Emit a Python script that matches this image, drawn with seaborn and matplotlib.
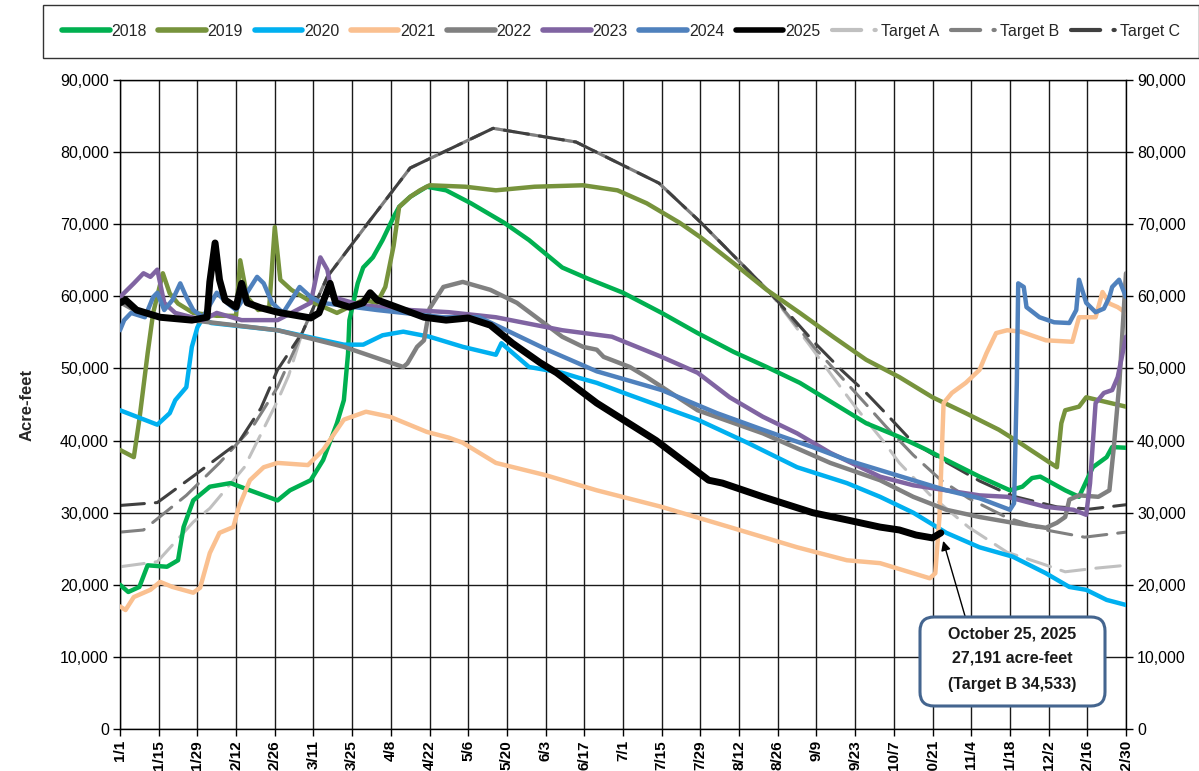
import numpy as np
import pandas as pd
import matplotlib
matplotlib.use("Agg")
import matplotlib.pyplot as plt
from matplotlib.lines import Line2D
from matplotlib.patches import FancyBboxPatch
from matplotlib.transforms import IdentityTransform
from matplotlib.ticker import FuncFormatter, MultipleLocator
import seaborn as sns

# ---------------- data (x = day of year on a leap-year axis, 0 = Jan 1) ----------------
tick_days = list(range(0, 365, 14))
tick_labels = ["1/1", "1/15", "1/29", "2/12", "2/26", "3/11", "3/25", "4/8", "4/22", "5/6",
               "5/20", "6/3", "6/17", "7/1", "7/15", "7/29", "8/12", "8/26", "9/9", "9/23",
               "10/7", "10/21", "11/4", "11/18", "12/2", "12/16", "12/30"]

days_2018 = [0, 3, 7, 10, 17, 21, 23, 26.5, 32.5, 40, 47, 57, 61.5, 69, 73.5, 78.5, 81, 82.5, 83,
             86, 88, 91.5, 95, 99, 101, 105, 111, 118, 127, 139, 148, 160, 169, 182, 196, 209,
             222, 234, 246, 258, 270, 282, 292, 299, 311, 322, 326.5, 330, 333, 342, 347, 352,
             357, 359, 364]
vals_2018 = [20000, 19000, 19700, 22700, 22500, 23400, 28000, 31700, 33600, 34100, 33100, 31700,
             33100, 34500, 37300, 42400, 45600, 52000, 56700, 61800, 64000, 65400, 67800, 71000,
             72400, 73800, 75200, 74700, 72900, 70200, 67800, 64000, 62500, 60500, 57700, 54900,
             52300, 50200, 48000, 45200, 42400, 40500, 38700, 37300, 35000, 33100, 33600, 34800,
             35000, 33100, 32200, 36300, 37700, 39100, 39000]

days_2019 = [0, 5, 7, 10, 12, 15.5, 18, 21, 26.5, 35, 42, 43.5, 46, 50, 54, 56, 58, 62, 68, 78.5,
             88, 93, 96, 99, 101, 105, 108.5, 112, 125, 136, 150, 167.5, 180, 190.6, 202.5, 210,
             222, 234, 246, 258, 270, 282, 294, 306, 318, 325.5, 335, 339, 340.6, 342, 347,
             349.6, 354, 364]
vals_2019 = [38700, 37700, 42900, 52100, 57700, 63200, 60400, 59000, 57700, 57300, 57300, 65000,
             59900, 58100, 58500, 69600, 62300, 60900, 59500, 57700, 59500, 59100, 61300, 67000,
             72400, 73800, 74700, 75400, 75200, 74700, 75200, 75400, 74700, 72900, 70200, 68200,
             64600, 60900, 57700, 54400, 51200, 48800, 46000, 43800, 41500, 39700, 37300, 36300,
             42400, 44200, 44700, 46000, 45600, 44700]

days_2020 = [0, 13.5, 18, 20, 24, 26, 28, 30, 33, 57, 81, 88, 95, 102.5, 112, 124, 136, 138, 148,
             160, 166, 172.5, 184.5, 209, 227, 245, 263, 275, 287, 299, 311, 323, 335, 343.5,
             349.6, 357, 364]
vals_2020 = [44200, 42200, 43800, 45600, 47400, 53000, 55700, 57000, 56300, 55300, 53300, 53300,
             54600, 55100, 54400, 53000, 51900, 53500, 50200, 49400, 48700, 48000, 46300, 42900,
             39700, 36300, 34100, 32200, 30000, 27200, 25200, 23900, 21600, 19700, 19300, 17900,
             17200]

days_2021 = [0, 2, 5, 11, 14.5, 19, 26.5, 29, 32.5, 36, 41, 43, 47, 52, 57, 68, 73.5, 81, 89,
             97.7, 111, 119, 124, 136, 154, 172.5, 196, 220.6, 245, 263, 275, 293, 295, 296.5,
             298, 301, 306, 311, 313.5, 317, 321, 326, 335, 344.6, 347, 353, 355.5, 358, 361, 364]
vals_2021 = [17000, 16500, 18300, 19300, 20400, 19700, 18900, 19600, 24400, 27200, 28000, 30800,
             34500, 36300, 36900, 36600, 38700, 42900, 44000, 43300, 41200, 40400, 39700, 36900,
             35200, 33100, 30800, 28000, 25200, 23400, 23000, 20900, 21600, 29400, 45200, 46600,
             48000, 49800, 52100, 54900, 55300, 55100, 53900, 53700, 57100, 57100, 60600, 59000,
             58500, 57700]

days_2022 = [0, 7, 14, 32.5, 57, 81, 102.5, 104, 107.5, 110, 112, 117, 124, 134, 143.6, 155.5, 160,
             167.5, 172.5, 175, 184.5, 190.6, 209, 232.6, 257, 275, 287, 299, 311, 323, 335, 339,
             342, 343.5, 347, 354, 358, 359.5, 361.6, 364]
vals_2022 = [59200, 57700, 57200, 56400, 55300, 53000, 50200, 50700, 53000, 53900, 58300, 61300,
             62000, 60900, 59100, 55700, 54400, 53000, 52600, 51600, 50200, 48800, 44200, 41000,
             36900, 34500, 32200, 30400, 29400, 28600, 27900, 28600, 29400, 31800, 32400, 32200,
             33100, 38700, 48000, 63200]

days_2023 = [0, 5, 8.5, 11, 13.5, 16, 20, 30, 35, 44, 57, 69, 72.5, 75, 77, 87, 105, 119, 136, 160,
             178, 196, 209, 220.6, 232.6, 245, 257, 275, 287, 299, 311, 321, 335, 345, 349.6,
             351, 353, 356, 359, 361, 364]
vals_2023 = [59900, 61800, 63200, 62700, 63700, 59100, 57700, 56700, 57700, 56700, 56700, 59100,
             65400, 63700, 59900, 58800, 58100, 57800, 57100, 55300, 54400, 51600, 49400, 46000,
             43300, 41000, 38300, 35000, 33800, 33100, 32400, 32200, 30800, 30400, 29700, 34100,
             45200, 46600, 47000, 48800, 54400]

days_2024 = [0, 1.5, 4, 9, 12, 13.5, 16, 19, 21.8, 24, 26.5, 30, 35, 39, 42, 49.6, 52, 55, 59, 65,
             69, 73, 93, 117, 130, 142, 154.5, 172.5, 196, 216, 232.6, 240, 250.6, 263, 275, 287,
             299, 311, 322, 323.5, 324.5, 325, 327, 328, 332.7, 338, 343.5, 346, 347, 349.6, 353,
             356, 358, 359, 361.5, 364]
vals_2024 = [55300, 56700, 57700, 57100, 59900, 60500, 58100, 59500, 61800, 59900, 58100, 57100,
             60500, 59000, 58100, 62700, 61800, 59100, 57700, 61300, 59900, 59100, 58100, 57100,
             57100, 54900, 52600, 49600, 47000, 43800, 41500, 40500, 39100, 37300, 35900, 34500,
             33100, 32000, 30400, 31300, 48000, 61800, 61300, 58500, 57100, 56400, 56300, 58100,
             62300, 59100, 57800, 58300, 59900, 61300, 62300, 59900]

days_2025 = [0, 2, 6, 14.5, 26, 31.5, 32.5, 34.4, 36, 38, 42, 44, 46, 51, 57, 69, 72, 76, 78, 83,
             88, 90.5, 93, 98, 110, 118, 126, 134, 142, 152, 158, 172.5, 194, 213, 218, 232.6,
             250.6, 263, 275, 282, 288, 294, 297]
vals_2025 = [59100, 59500, 58100, 57100, 56700, 57100, 62000, 67400, 62300, 59500, 58500, 61800,
             59100, 58400, 57800, 57000, 57700, 61800, 59100, 58500, 59100, 60500, 59500, 58800,
             57100, 56700, 57000, 56000, 53500, 50800, 49400, 45200, 40000, 34500, 34100, 32200,
             30000, 29000, 28000, 27600, 26900, 26500, 27191]

days_target_a = [0, 13.5, 26.5, 32.5, 45, 57, 61, 66, 75, 90, 105, 135, 165, 195, 210, 235, 249,
                 258, 266, 276, 282, 293, 307, 321, 333, 342, 353, 364]
vals_target_a = [22500, 23200, 28700, 30600, 36300, 45500, 49000, 55000, 62700, 70300, 77800,
                 83300, 81400, 75700, 70300, 60600, 53500, 48800, 44700, 40000, 36900, 32500,
                 28000, 24500, 23000, 21800, 22300, 22700]

days_target_b = [0, 8.5, 24, 36, 48, 57, 66, 75, 90, 105, 135, 165, 195, 210, 235, 251, 261, 270,
                 277, 287, 297, 307, 321, 335, 349, 364]
vals_target_b = [27300, 27600, 32400, 36900, 41900, 47400, 55000, 62700, 70300, 77800, 83300,
                 81400, 75700, 70300, 60600, 53000, 48800, 45000, 42000, 38000, 34533, 32000,
                 29300, 27600, 26600, 27300]

days_target_c = [0, 13.5, 27, 43, 51, 57, 66, 75, 90, 105, 135, 165, 195, 210, 235, 251, 261, 270,
                 277, 287, 299, 311, 323, 339, 351, 364]
vals_target_c = [31000, 31400, 35200, 39800, 44500, 49800, 55000, 62700, 70300, 77800, 83300,
                 81400, 75700, 70300, 60600, 53700, 49800, 46600, 43800, 39700, 37000, 34400,
                 32300, 30800, 30500, 31100]

annot_day = 297
annot_value = 27191
annot_lines = ["October 25, 2025", "27,191 acre-feet", "(Target B 34,533)"]

# ---------------- styling ----------------
sns.set_style("white")
plt.rcParams['font.family'] = ['Liberation Sans', 'DejaVu Sans']

W, H = 1199, 771
fig = plt.figure(figsize=(W / 100, H / 100), dpi=100)
ax = fig.add_axes([120 / W, 42 / H, 1006 / W, 649 / H])

dash_pat = (0, (8, 3.6))
series = [
    ("2018", days_2018, vals_2018, "#00B050", 3.2, "-", 3),
    ("2019", days_2019, vals_2019, "#77933C", 3.2, "-", 3),
    ("2020", days_2020, vals_2020, "#00B0F0", 3.2, "-", 3),
    ("2021", days_2021, vals_2021, "#FAC090", 3.2, "-", 3),
    ("2022", days_2022, vals_2022, "#808080", 3.2, "-", 3),
    ("2023", days_2023, vals_2023, "#8064A2", 3.2, "-", 3),
    ("2024", days_2024, vals_2024, "#4F81BD", 3.2, "-", 3),
    ("2025", days_2025, vals_2025, "#000000", 5.0, "-", 6),
    ("Target A", days_target_a, vals_target_a, "#C0C0C0", 2.2, dash_pat, 2.2),
    ("Target B", days_target_b, vals_target_b, "#808080", 2.2, dash_pat, 2.3),
    ("Target C", days_target_c, vals_target_c, "#404040", 2.2, dash_pat, 2.4),
]

for label, d, v, c, lw, ls, z in series:
    df = pd.DataFrame({"day": d, "acre_feet": v})
    sns.lineplot(data=df, x="day", y="acre_feet", ax=ax, color=c, linewidth=lw,
                 linestyle=ls, estimator=None, sort=False, legend=False, zorder=z,
                 solid_capstyle="round", solid_joinstyle="round", dash_capstyle="round")

ax.set_xlim(0, 364)
ax.set_ylim(0, 90000)
ax.set_xticks(tick_days)
ax.set_xticklabels(tick_labels, rotation=90, fontsize=11, fontweight="bold")
ax.yaxis.set_major_locator(MultipleLocator(10000))
ax.yaxis.set_major_formatter(FuncFormatter(lambda y, p: f"{int(y):,}"))
ax.tick_params(axis="y", which="major", labelsize=11.5, length=5, width=1, direction="out",
               left=True, right=True, labelleft=True, labelright=True, pad=3, colors="black")
ax.tick_params(axis="x", which="major", length=5, width=1, direction="out", bottom=True, pad=3,
               colors="black")
ax.grid(True, which="major", color="#1a1a1a", linewidth=1.0, zorder=0)
ax.set_axisbelow(True)
for sp in ax.spines.values():
    sp.set_visible(True)
    sp.set_color("black")
    sp.set_linewidth(1.0)
ax.set_xlabel("")
ax.set_ylabel("Acre-feet", fontsize=12, fontweight="bold", labelpad=18)

# legend
handles = []
for label, d, v, c, lw, ls, z in series:
    if ls == "-":
        h = Line2D([0], [0], color=c, lw=4.0, solid_capstyle="round")
    else:
        h = Line2D([0], [0], color=c, lw=3.0, linestyle=(0, (7, 3.2, 0.3, 20)),
                   dash_capstyle="round")
    handles.append(h)
fig.legend(handles, [s[0] for s in series], loc="upper left",
           bbox_to_anchor=(43 / W, 1 - 5 / H), ncol=11, frameon=True, fancybox=False,
           edgecolor="black", fontsize=11.4, handlelength=3.0, handletextpad=0.12,
           columnspacing=0.73, borderpad=1.2, borderaxespad=0)
leg = fig.legends[0]
leg.get_frame().set_linewidth(1.0)

# annotation box
box = FancyBboxPatch((920, H - 706), 185, 89, boxstyle="round,pad=0,rounding_size=14",
                     transform=IdentityTransform(), fc="white", ec="#44658F", lw=2.2, zorder=10)
fig.add_artist(box)
for i, (txt, ypx) in enumerate(zip(annot_lines, [634, 658, 684])):
    fig.text(1012 / W, 1 - ypx / H, txt, ha="center", va="center", fontsize=11.5,
             fontweight="bold", color="#1a1a1a", zorder=11)
ax.annotate("", xy=(annot_day, annot_value), xycoords="data",
            xytext=(965, H - 616), textcoords="figure pixels",
            arrowprops=dict(arrowstyle="-|>", color="black", lw=1.0, shrinkA=0, shrinkB=6,
                            mutation_scale=14), zorder=12, annotation_clip=False)

fig.savefig("out.png", dpi=100)
